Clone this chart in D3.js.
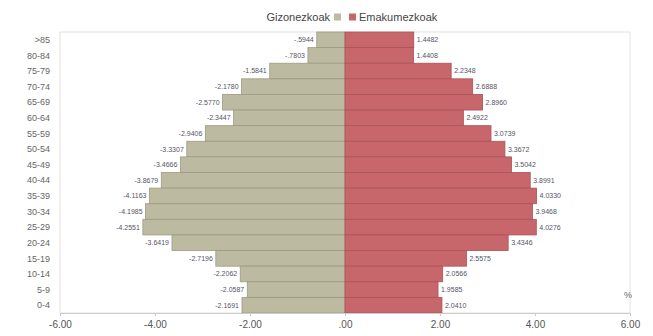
<!DOCTYPE html>
<html>
<head>
<meta charset="utf-8">
<title>piramidea</title>
<style>
  body { margin: 0; background: #fff; }
  svg { font-family: "Liberation Sans", Arial, sans-serif; }
</style>
</head>
<body>
<svg width="653" height="336"></svg>
<script src="https://d3js.org/d3.v7.min.js"></script>
<script>

    // age groups, top to bottom
    var ages = [">85", "80-84", "75-79", "70-74", "65-69", "60-64", "55-59", "50-54", "45-49",
        "40-44", "35-39", "30-34", "25-29", "20-24", "15-19", "10-14", "5-9", "0-4"];

    var gizonezkoak = [-0.5944, -0.7803, -1.5841, -2.1780, -2.5770, -2.3447, -2.9406, -3.3307, -3.4666,
        -3.8679, -4.1163, -4.1985, -4.2551, -3.6419, -2.7196, -2.2062, -2.0587, -2.1691];

    var emakumezkoak = [1.4482, 1.4408, 2.2348, 2.6888, 2.8960, 2.4922, 3.0739, 3.3672, 3.5042,
        3.8991, 4.0330, 3.9468, 4.0276, 3.4346, 2.5575, 2.0566, 1.9585, 2.0410];

    var xTicks = [-6, -4, -2, 0, 2, 4, 6];

    var svg = d3.select("svg"),
        margin = { top: 32, right: 23, bottom: 23, left: 60 },
        width = +svg.attr("width") - margin.left - margin.right,
        height = +svg.attr("height") - margin.top - margin.bottom,
        g = svg.append("g").attr("transform", "translate(" + margin.left + "," + margin.top + ")");

    var menColor = "#bcbba1",
        womenColor = "#c8676b";

    // plain hyphen and no leading zero, like "-.5944" / ".00"
    function noZero(s) { return s.replace("\u2212", "-").replace(/^(-?)0\./, "$1."); }
    var fmt4 = d3.format(".4f"), fmt2 = d3.format(".2f");

    var x = d3.scaleLinear().domain([-6, 6]).range([0, width]);
    var y = d3.scaleBand().domain(ages).range([0, height]).padding(0);

    // frame
    g.append("rect")
        .attr("x", 0).attr("y", 0)
        .attr("width", width).attr("height", height)
        .attr("fill", "none")
        .attr("stroke", "#e2e2e2");

    var men = ages.map(function (a, i) { return { age: a, v: gizonezkoak[i] }; });
    var women = ages.map(function (a, i) { return { age: a, v: emakumezkoak[i] }; });

    g.selectAll(".men").data(men).enter().append("rect")
        .attr("class", "men")
        .attr("x", function (d) { return x(d.v); })
        .attr("y", function (d) { return y(d.age); })
        .attr("width", function (d) { return x(0) - x(d.v); })
        .attr("height", y.bandwidth())
        .attr("fill", menColor)
        .attr("stroke", "#9c9a82")
        .attr("stroke-width", 0.8);

    g.selectAll(".women").data(women).enter().append("rect")
        .attr("class", "women")
        .attr("x", x(0))
        .attr("y", function (d) { return y(d.age); })
        .attr("width", function (d) { return x(d.v) - x(0); })
        .attr("height", y.bandwidth())
        .attr("fill", womenColor)
        .attr("stroke", "#a85357")
        .attr("stroke-width", 0.8);

    // value labels with white boxes
    function addLabels(data, side) {
        var lab = g.selectAll(".lab-" + side).data(data).enter().append("g")
            .attr("class", "lab-" + side)
            .attr("transform", function (d) {
                var px = side === "m" ? x(d.v) - 1 : x(d.v) + 1;
                return "translate(" + px + "," + (y(d.age) + y.bandwidth() / 2) + ")";
            });
        lab.append("rect")
            .attr("x", function (d) { return side === "m" ? -28 : 0; })
            .attr("y", -5)
            .attr("width", 28).attr("height", 10)
            .attr("fill", "#fff");
        lab.append("text")
            .attr("x", function (d) { return side === "m" ? -2 : 2; })
            .attr("dy", "0.35em")
            .attr("text-anchor", side === "m" ? "end" : "start")
            .attr("font-size", "7px")
            .attr("fill", "#556")
            .text(function (d) { return noZero(fmt4(d.v)); });
    }
    addLabels(men, "m");
    addLabels(women, "w");

    // age labels
    g.selectAll(".age").data(ages).enter().append("text")
        .attr("class", "age")
        .attr("x", -10)
        .attr("y", function (d) { return y(d) + y.bandwidth() / 2; })
        .attr("dy", "0.35em")
        .attr("text-anchor", "end")
        .attr("font-size", "9px")
        .attr("fill", "#666")
        .text(function (d) { return d; });

    // x axis
    var xAxis = g.append("g")
        .attr("transform", "translate(0," + height + ")")
        .call(d3.axisBottom(x)
            .tickValues(xTicks)
            .tickSize(3)
            .tickFormat(function (d) { return noZero(fmt2(d)); }));
    xAxis.select(".domain").attr("stroke", "#ccc");
    xAxis.selectAll(".tick line").attr("stroke", "#ccc");
    xAxis.selectAll(".tick text")
        .attr("font-size", "10px")
        .attr("fill", "#555")
        .attr("dy", "0.9em");

    g.append("text")
        .attr("x", width + 2)
        .attr("y", height - 15)
        .attr("text-anchor", "end")
        .attr("font-size", "9px")
        .attr("fill", "#666")
        .text("%");

    // legend
    var leg = svg.append("g").attr("transform", "translate(0,17)");
    leg.append("text")
        .attr("x", 330).attr("dy", "0.35em")
        .attr("text-anchor", "end")
        .attr("font-size", "11px").attr("fill", "#444")
        .text("Gizonezkoak");
    leg.append("rect").attr("x", 334).attr("y", -3.5).attr("width", 7).attr("height", 7).attr("fill", menColor);
    leg.append("rect").attr("x", 349).attr("y", -3.5).attr("width", 7).attr("height", 7).attr("fill", womenColor);
    leg.append("text")
        .attr("x", 359).attr("dy", "0.35em")
        .attr("font-size", "11px").attr("fill", "#444")
        .text("Emakumezkoak");

</script>
</body>
</html>
